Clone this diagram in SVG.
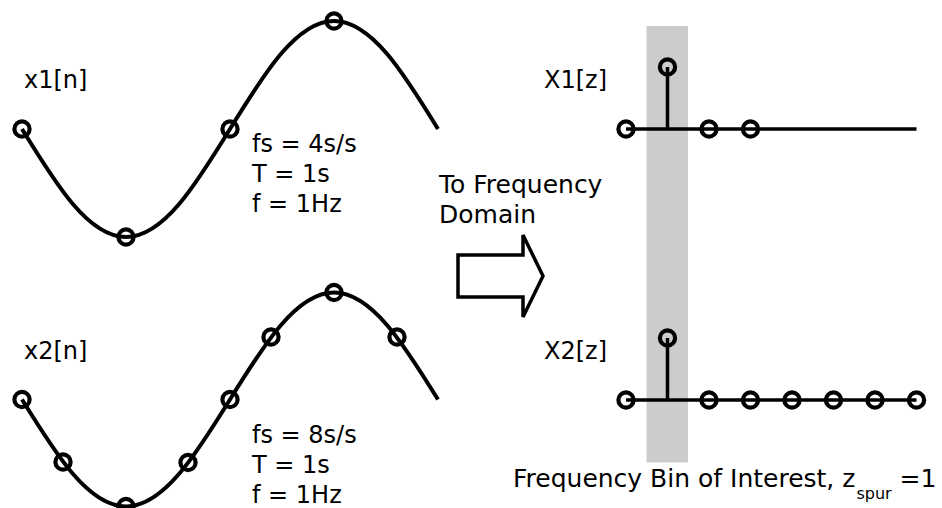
<svg xmlns="http://www.w3.org/2000/svg" width="942" height="508" viewBox="0 0 942 508">
  <style>
    text { font-family: "DejaVu Sans", "Liberation Sans", sans-serif; font-size: 24px; fill: #000; }
    .wave { fill: none; stroke: #000; stroke-width: 4; }
    .sample { fill: none; stroke: #000; stroke-width: 4.2; }
    .axis { stroke: #000; stroke-width: 3.5; fill: none; }
    .band { fill: #cccccc; }
    .block { fill: #fff; stroke: #000; stroke-width: 3.5; stroke-linejoin: miter; }
    .large { font-size: 25px; }
  </style>
  <defs>
    <circle id="dot" r="7.6" class="sample"/>
  </defs>

  <!-- highlighted frequency bin -->
  <rect id="bin-highlight" class="band" x="646.5" y="26" width="41.5" height="436.5"/>

  <!-- time-domain signal sampled at 4 s/s -->
  <g id="x1">
    <text x="24" y="88">x1[n]</text>
    <path class="wave" d="M22,129 C55.9,184.3 88.4,237 126,237 C163.6,237 196.1,184.3 230,129 C263.9,73.7 296.4,21 334,21 C371.6,21 404.1,73.7 438,129"/>
    <use href="#dot" x="22" y="129"/>
    <use href="#dot" x="126" y="237"/>
    <use href="#dot" x="230" y="129"/>
    <use href="#dot" x="334" y="21"/>
    <text x="252" y="152">fs = 4s/s</text>
    <text x="252" y="182">T = 1s</text>
    <text x="252" y="212">f = 1Hz</text>
  </g>

  <!-- time-domain signal sampled at 8 s/s -->
  <g id="x2">
    <text x="24" y="359">x2[n]</text>
    <path class="wave" d="M22,399.5 C55.9,454.3 88.4,506.5 126,506.5 C163.6,506.5 196.1,454.3 230,399.5 C263.9,344.7 296.4,292.5 334,292.5 C371.6,292.5 404.1,344.7 438,399.5"/>
    <use href="#dot" x="22" y="399.5"/>
    <use href="#dot" x="63" y="462"/>
    <use href="#dot" x="126" y="506.5"/>
    <use href="#dot" x="188" y="462.5"/>
    <use href="#dot" x="230" y="399.5"/>
    <use href="#dot" x="271" y="337"/>
    <use href="#dot" x="334" y="292.5"/>
    <use href="#dot" x="397" y="337"/>
    <text x="252" y="443">fs = 8s/s</text>
    <text x="252" y="473">T = 1s</text>
    <text x="252" y="503">f = 1Hz</text>
  </g>

  <!-- transform arrow -->
  <g id="transform">
    <text class="large" x="439" y="193">To Frequency</text>
    <text class="large" x="439" y="223">Domain</text>
    <polygon class="block" points="458,255 523,255 523,235 543,276 523,317 523,297 458,297"/>
  </g>

  <!-- spectrum of x1 -->
  <g id="X1">
    <text x="544" y="88">X1[z]</text>
    <line class="axis" x1="626" y1="129" x2="916.5" y2="129"/>
    <line class="axis" x1="667.5" y1="129" x2="667.5" y2="67"/>
    <use href="#dot" x="667.5" y="67"/>
    <use href="#dot" x="626" y="129"/>
    <use href="#dot" x="709" y="129"/>
    <use href="#dot" x="750.5" y="129"/>
  </g>

  <!-- spectrum of x2 -->
  <g id="X2">
    <text x="544" y="359">X2[z]</text>
    <line class="axis" x1="626" y1="400" x2="916.5" y2="400"/>
    <line class="axis" x1="667.5" y1="400" x2="667.5" y2="338"/>
    <use href="#dot" x="667.5" y="338"/>
    <use href="#dot" x="626" y="400"/>
    <use href="#dot" x="709" y="400"/>
    <use href="#dot" x="750.5" y="400"/>
    <use href="#dot" x="792" y="400"/>
    <use href="#dot" x="833.5" y="400"/>
    <use href="#dot" x="875" y="400"/>
    <use href="#dot" x="916.5" y="400"/>
  </g>

  <g id="caption">
    <text class="large" x="513" y="487">Frequency Bin of Interest, z<tspan dx="1" dy="12" font-size="16">spur</tspan><tspan dy="-12"> =1</tspan></text>
  </g>
</svg>
